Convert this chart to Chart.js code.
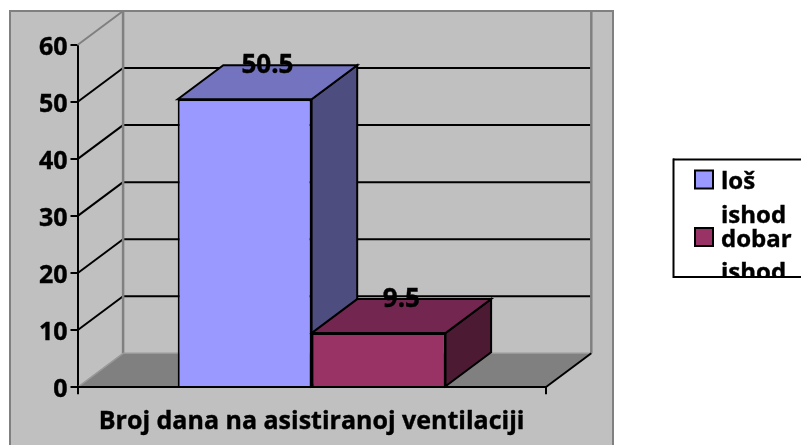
<!DOCTYPE html>
<html>
<head>
<meta charset="utf-8">
<style>html,body{margin:0;padding:0;background:#fff}canvas{display:block}</style>
<script src="https://cdn.jsdelivr.net/npm/chart.js@4"></script>
</head>
<body>
<canvas id="c" width="801" height="445"></canvas>
<script>
const categories = ["Broj dana na asistiranoj ventilaciji"];
const seriesNames = [["loš", "ishod"], ["dobar", "ishod"]];
const losIshod = [50.5];
const dobarIshod = [9.5];
const yTicks = [0, 10, 20, 30, 40, 50, 60];

const FONT = '"Open Sans", sans-serif';
const DX = 45.6, DY = 34;
const faces = [
  {front:'#9999FF', top:'#7373BF', side:'#4D4D80'},
  {front:'#993366', top:'#732650', side:'#4D1A33'}
];
function poly(ctx, pts, fill, stroke, lw){
  ctx.beginPath();
  pts.forEach((p,i)=> i?ctx.lineTo(p[0],p[1]):ctx.moveTo(p[0],p[1]));
  ctx.closePath();
  if(fill){ctx.fillStyle=fill;ctx.fill();}
  if(stroke){ctx.strokeStyle=stroke;ctx.lineWidth=lw;ctx.stroke();}
}
function line(ctx,x1,y1,x2,y2,c,w){
  ctx.beginPath();ctx.moveTo(x1,y1);ctx.lineTo(x2,y2);ctx.strokeStyle=c;ctx.lineWidth=w;ctx.stroke();
}
const scene = {
  id:'scene',
  beforeDraw(chart){
    const ctx=chart.ctx;
    ctx.save();
    ctx.fillStyle='#fff';ctx.fillRect(0,0,801,445);
    ctx.fillStyle='#C0C0C0';ctx.fillRect(10,11,603,440);
    ctx.strokeStyle='#808080';ctx.lineWidth=2;ctx.strokeRect(10,11,603,440);
    ctx.restore();
  },
  beforeDatasetsDraw(chart){
    const ctx=chart.ctx, y=chart.scales.y, a=chart.chartArea;
    const l=a.left, r=a.right, b=y.getPixelForValue(0), t=y.getPixelForValue(60);
    ctx.save();
    poly(ctx,[[l,b],[l+DX,b-DY],[r+DX,b-DY],[r,b]],'#808080');
    yTicks.forEach(v=>{
      if(v===0||v===60) return;
      const p=y.getPixelForValue(v);
      line(ctx,l,p,l+DX,p-DY,'#000',2);
      line(ctx,l+DX,p-DY,r+DX,p-DY,'#000',2);
    });
    line(ctx,l,t,l+DX,t-DY,'#808080',2);
    line(ctx,l+DX,t-DY,r+DX,t-DY,'#808080',2);
    line(ctx,l+DX,t-DY,l+DX,b-DY,'#808080',2.5);
    line(ctx,r+DX,t-DY,r+DX,b-DY,'#808080',2.5);
    line(ctx,l+DX,b-DY,r+DX,b-DY,'#999',1.5);
    line(ctx,l,b,l+DX,b-DY,'#999',1.5);
    line(ctx,r,b,r+DX,b-DY,'#000',2);
    chart.data.datasets.forEach((ds,i)=>{
      const bar=chart.getDatasetMeta(i).data[0];
      const x0=bar.x-bar.width/2, x1=bar.x+bar.width/2, yt=bar.y, yb=bar.base;
      poly(ctx,[[x1,yt],[x1+DX,yt-DY],[x1+DX,yb-DY],[x1,yb]],faces[i].side,'#000',2);
      poly(ctx,[[x0,yt],[x0+DX,yt-DY],[x1+DX,yt-DY],[x1,yt]],faces[i].top,'#000',2);
    });
    ctx.restore();
  },
  afterDatasetsDraw(chart){
    const ctx=chart.ctx;
    ctx.save();
    ctx.font='bold 26px '+FONT;
    ctx.fillStyle='#000';ctx.textAlign='center';ctx.textBaseline='middle';
    ctx.strokeStyle='#000';ctx.lineWidth=0.4;
    chart.data.datasets.forEach((ds,i)=>{
      const bar=chart.getDatasetMeta(i).data[0];
      ctx.fillText(String(ds.data[0]),bar.x+DX/2,bar.y-DY);
      ctx.strokeText(String(ds.data[0]),bar.x+DX/2,bar.y-DY);
    });
    ctx.fillStyle='#fff';ctx.fillRect(673,159,130,118);
    line(ctx,673,159.5,801,159.5,'#000',2);
    line(ctx,673,277,801,277,'#000',2);
    line(ctx,673.5,158.5,673.5,278,'#000',2);
    ctx.beginPath();ctx.rect(674,160,127,116);ctx.clip();
    ctx.textAlign='left';ctx.textBaseline='alphabetic';ctx.font='bold 24px '+FONT;
    const tops=[170.5,228];
    const bases=[[189,222.7],[246.7,280]];
    chart.data.datasets.forEach((ds,i)=>{
      ctx.fillStyle=faces[i].front;ctx.fillRect(695,tops[i],18,18);
      ctx.strokeStyle='#000';ctx.lineWidth=2;ctx.strokeRect(695,tops[i],18,18);
      ctx.fillStyle='#000';ctx.lineWidth=0.4;
      ds.label.forEach((s,k)=>{ctx.fillText(s,721,bases[i][k]);ctx.strokeText(s,721,bases[i][k]);});
    });
    ctx.restore();
  }
};
new Chart(document.getElementById('c'),{
  type:'bar',
  data:{labels:categories,datasets:[
    {label:seriesNames[0],data:losIshod,backgroundColor:faces[0].front,borderColor:'#000',borderWidth:2,borderSkipped:'bottom'},
    {label:seriesNames[1],data:dobarIshod,backgroundColor:faces[1].front,borderColor:'#000',borderWidth:2,borderSkipped:'bottom'}
  ]},
  plugins:[scene],
  options:{
    responsive:false,animation:false,
    layout:{padding:{left:0,top:45,right:255.3,bottom:0}},
    categoryPercentage:0.572,barPercentage:1,
    plugins:{legend:{display:false},tooltip:{enabled:false}},
    scales:{
      x:{
        afterFit(s){s.height=57.7;},
        grid:{drawOnChartArea:false,drawTicks:true,tickLength:7,color:'#000',lineWidth:2,z:1},
        border:{color:'#000',width:2,z:1},
        ticks:{color:'#000',font:{family:FONT,weight:'bold',size:25},padding:13,maxRotation:0,textStrokeColor:'#000',textStrokeWidth:0.4}
      },
      y:{
        min:0,max:60,
        afterFit(s){s.width=77.5;},
        afterBuildTicks(s){s.ticks=yTicks.map(v=>({value:v}));},
        grid:{drawOnChartArea:false,drawTicks:true,tickLength:7,color:'#000',lineWidth:2},
        border:{color:'#000',width:2},
        ticks:{color:'#000',font:{family:FONT,weight:'bold',size:25},padding:3,labelOffset:2.5,textStrokeColor:'#000',textStrokeWidth:0.4}
      }
    }
  }
});
</script>
</body>
</html>
